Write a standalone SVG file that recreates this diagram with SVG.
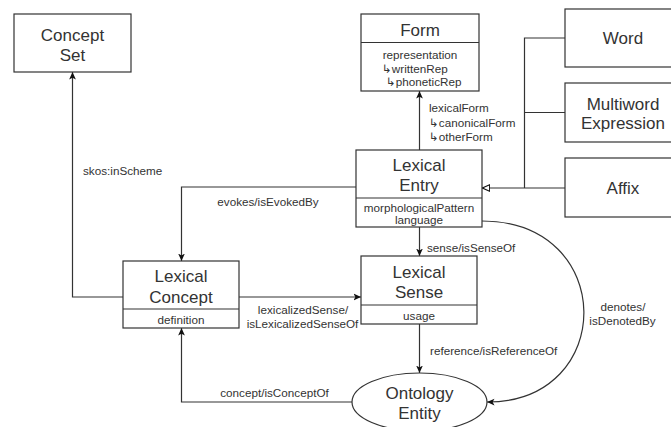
<svg xmlns="http://www.w3.org/2000/svg" width="671" height="427" viewBox="0 0 671 427">
  <style>
    .box { fill: #ffffff; stroke: #333333; stroke-width: 1.2; }
    .div { stroke: #333333; stroke-width: 1.2; }
    .title { font-family: "Liberation Sans", Arial, sans-serif; font-size: 17px; fill: #333333; text-anchor: middle; }
    .attr { font-family: "Liberation Sans", "DejaVu Sans", Arial, sans-serif; font-size: 11.7px; fill: #333333; text-anchor: middle; }
    .lbl { font-family: "Liberation Sans", "DejaVu Sans", Arial, sans-serif; font-size: 11.7px; fill: #333333; }
    .mid { text-anchor: middle; }
    .edge { fill: none; stroke: #333333; stroke-width: 1.2; }
    .arr { marker-end: url(#arrow); }
  </style>
  <defs>
    <marker id="arrow" viewBox="0 0 10 10" refX="10" refY="5" markerWidth="7.5" markerHeight="7.5" markerUnits="userSpaceOnUse" orient="auto">
      <path d="M0,0.5 L10,5 L0,9.5 L2.5,5 z" fill="#111111"/>
    </marker>
    <marker id="triangle" viewBox="0 0 10 10" refX="10" refY="5" markerWidth="8" markerHeight="8" markerUnits="userSpaceOnUse" orient="auto">
      <path d="M0.5,1 L9.5,5 L0.5,9 z" fill="#ffffff" stroke="#111111" stroke-width="1.3"/>
    </marker>
  </defs>
  <rect width="671" height="427" fill="#ffffff"/>

  <g id="connectors">
    <!-- skos:inScheme -->
    <path class="edge arr" d="M123,297 H72.5 V72"/>
    <!-- evokes -->
    <path class="edge arr" d="M356,187 H181.5 V261"/>
    <!-- lexicalForm -->
    <path class="edge arr" d="M419.5,150 V91"/>
    <!-- sense -->
    <path class="edge arr" d="M419.5,227 V256"/>
    <!-- lexicalizedSense -->
    <path class="edge arr" d="M239,297 H361"/>
    <!-- reference -->
    <path class="edge arr" d="M419.5,324 V373"/>
    <!-- concept -->
    <path class="edge arr" d="M352,402 H181.5 V328"/>
    <!-- denotes -->
    <path class="edge arr" d="M482,221 C617,221 617,402 487,402"/>
    <!-- subclasses of Lexical Entry -->
    <path class="edge" d="M565,38 H524.5 V188"/>
    <path class="edge" d="M565,112.5 H524.5"/>
    <path class="edge" d="M565,188 H482" marker-end="url(#triangle)"/>

    <text class="lbl" x="83" y="175">skos:inScheme</text>
    <text class="lbl mid" x="268" y="206">evokes/isEvokedBy</text>
    <text class="lbl" x="429" y="112">lexicalForm</text>
    <text class="lbl" x="429" y="127">↳canonicalForm</text>
    <text class="lbl" x="429" y="141">↳otherForm</text>
    <text class="lbl" x="427" y="252">sense/isSenseOf</text>
    <text class="lbl mid" x="303" y="314">lexicalizedSense/</text>
    <text class="lbl mid" x="302.5" y="328">isLexicalizedSenseOf</text>
    <text class="lbl" x="430" y="355">reference/isReferenceOf</text>
    <text class="lbl mid" x="274.5" y="397">concept/isConceptOf</text>
    <text class="lbl mid" x="623" y="311">denotes/</text>
    <text class="lbl mid" x="622.5" y="325">isDenotedBy</text>
  </g>

  <g id="concept-set">
    <rect class="box" x="14" y="14" width="117" height="58"/>
    <text class="title" x="72.5" y="41">Concept</text>
    <text class="title" x="72.5" y="61">Set</text>
  </g>

  <g id="form">
    <rect class="box" x="361" y="14" width="118" height="77"/>
    <line class="div" x1="361" y1="42.5" x2="479" y2="42.5"/>
    <text class="title" x="420" y="36">Form</text>
    <text class="attr" x="420" y="59">representation</text>
    <text class="lbl" x="382" y="73">↳writtenRep</text>
    <text class="lbl" x="386" y="86">↳phoneticRep</text>
  </g>

  <g id="lexical-entry">
    <rect class="box" x="356" y="150" width="126" height="77"/>
    <line class="div" x1="356" y1="198" x2="482" y2="198"/>
    <text class="title" x="419" y="171">Lexical</text>
    <text class="title" x="419" y="191">Entry</text>
    <text class="attr" x="419" y="212">morphologicalPattern</text>
    <text class="attr" x="419" y="224">language</text>
  </g>

  <g id="lexical-concept">
    <rect class="box" x="123" y="261" width="116" height="67"/>
    <line class="div" x1="123" y1="309" x2="239" y2="309"/>
    <text class="title" x="181" y="282">Lexical</text>
    <text class="title" x="181" y="303">Concept</text>
    <text class="attr" x="181" y="324">definition</text>
  </g>

  <g id="lexical-sense">
    <rect class="box" x="361" y="256" width="116" height="68"/>
    <line class="div" x1="361" y1="305" x2="477" y2="305"/>
    <text class="title" x="419" y="278">Lexical</text>
    <text class="title" x="419" y="298">Sense</text>
    <text class="attr" x="419" y="320">usage</text>
  </g>

  <g id="ontology-entity">
    <ellipse class="box" cx="419.5" cy="402" rx="67.5" ry="29"/>
    <text class="title" x="419.5" y="399">Ontology</text>
    <text class="title" x="419.5" y="419">Entity</text>
  </g>

  <g id="word">
    <rect class="box" x="565" y="9" width="116" height="58"/>
    <text class="title" x="623" y="44">Word</text>
  </g>

  <g id="multiword-expression">
    <rect class="box" x="565" y="83" width="116" height="59"/>
    <text class="title" x="623" y="110">Multiword</text>
    <text class="title" x="623" y="129">Expression</text>
  </g>

  <g id="affix">
    <rect class="box" x="565" y="158" width="116" height="59"/>
    <text class="title" x="623" y="194">Affix</text>
  </g>
</svg>
